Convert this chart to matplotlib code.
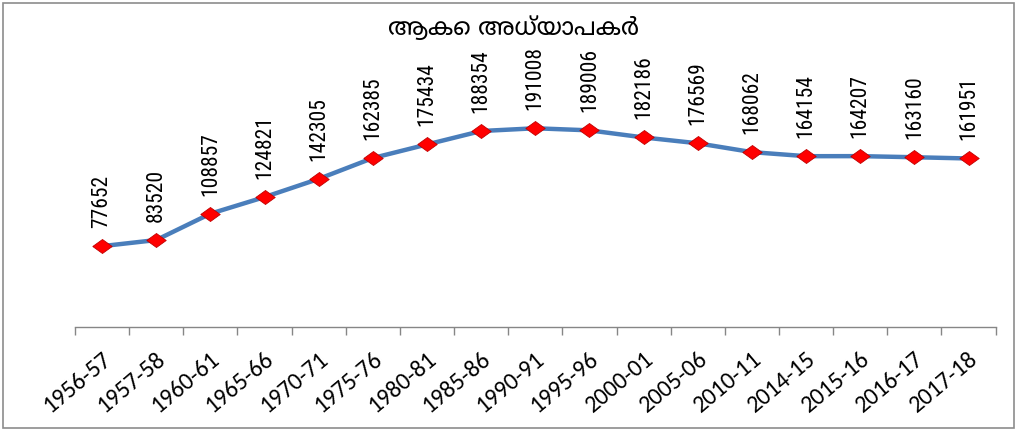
import matplotlib
matplotlib.use("Agg")
import matplotlib.pyplot as plt
from matplotlib import font_manager
import numpy as np

YEARS = ["1956-57", "1957-58", "1960-61", "1965-66", "1970-71", "1975-76",
         "1980-81", "1985-86", "1990-91", "1995-96", "2000-01", "2005-06",
         "2010-11", "2014-15", "2015-16", "2016-17", "2017-18"]
TEACHERS = [77652, 83520, 108857, 124821, 142305, 162385, 175434, 188354,
            191008, 189006, 182186, 176569, 168062, 164154, 164207, 163160,
            161951]
TITLE = "ആകെ അധ്യാപകർ"


def malayalam_family():
  # look for any installed font whose name mentions Malayalam
  for path in font_manager.findSystemFonts():
    if "malayalam" in path.lower():
      try:
        return font_manager.FontProperties(fname=path).get_name()
      except Exception:
        pass
  return None


def installed(names):
  have = {f.name for f in font_manager.fontManager.ttflist}
  return [n for n in names if n in have] + ["DejaVu Sans"]


fig = plt.figure(figsize=(10.17, 4.29), dpi=100)
ax = fig.add_axes([0.0737, 0.238, 0.9053, 0.606])

# diamond a bit wider than tall, like the stretched original
diamond = [(-1, 0), (0, 0.72), (1, 0), (0, -0.72), (-1, 0)]

x = np.arange(len(YEARS))
ax.plot(x, TEACHERS, color="#4a7ebb", lw=3.2, zorder=2)
ax.plot(x, TEACHERS, ls="none", marker=diamond, ms=14, mfc="#ff0000",
        mec="#c00000", mew=0.6, zorder=3)
for xi, v in zip(x, TEACHERS):
  ax.annotate(str(v), (xi, v), xytext=(0, 13), textcoords="offset points",
              rotation=90, ha="center", va="bottom", fontsize=15.5,
              fontstretch="condensed",
              family=installed(["Liberation Sans Narrow", "Roboto Condensed"]))

ax.set_xlim(-0.5, len(YEARS) - 0.5)
ax.set_ylim(0, 250000)
ax.set_xticks(x)
ax.set_xticklabels(YEARS, rotation=40, ha="right", rotation_mode="anchor",
                   fontsize=17.5, family=installed(["Carlito", "Lato", "Open Sans"]))
ax.set_xticks(np.arange(len(YEARS) + 1) - 0.5, minor=True)
ax.tick_params(axis="x", which="major", length=0, pad=15)
ax.tick_params(axis="x", which="minor", length=6, color="#868686", width=1)
ax.set_yticks([])
for side in ("top", "right", "left"):
  ax.spines[side].set_visible(False)
ax.spines["bottom"].set_color("#868686")
ax.spines["bottom"].set_linewidth(1)

fam = malayalam_family()
fams = [fam, "DejaVu Sans"] if fam else ["Noto Sans", "DejaVu Sans"]
fig.text(0.505, 0.935, TITLE, ha="center", va="center", fontsize=17.5,
         fontweight="bold", family=fams)

# chart frame
fig.patches.append(plt.Rectangle((0.003, 0.003), 0.994, 0.99, transform=fig.transFigure,
                                 fill=False, ec="#8c8c8c", lw=1.2))

fig.savefig("out.png", dpi=100)
